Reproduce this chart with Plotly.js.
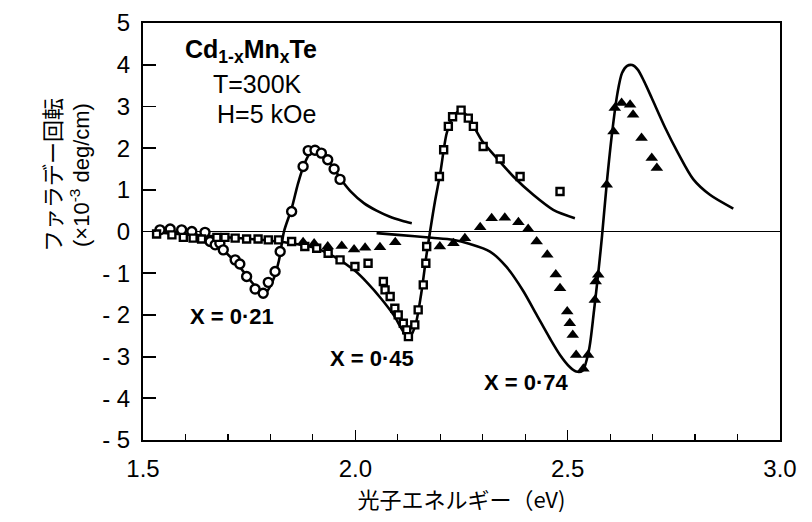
<!DOCTYPE html>
<html>
<head>
<meta charset="utf-8">
<script src="https://cdn.plot.ly/plotly-3.0.1.min.js"></script>
<style>html,body{margin:0;padding:0;background:#fff;}#chart{width:812px;height:522px;}</style>
</head>
<body>
<div id="chart"></div>
<script>
// x = 0.21 measured points (open circles)
const x021 = [1.540,1.564,1.591,1.615,1.646,1.658,1.670,1.681,1.689,1.717,1.728,1.744,1.764,1.783,1.795,1.811,1.823,1.850,1.877,1.889,1.905,1.920,1.935,1.950,1.964];
const y021 = [0.04,0.06,0.04,0.00,-0.02,-0.24,-0.32,-0.28,-0.44,-0.68,-0.78,-1.08,-1.38,-1.48,-1.22,-0.96,-0.48,0.48,1.56,1.94,1.95,1.88,1.72,1.50,1.25];
// x = 0.21 fitted curve
const xFit021 = [1.53,1.56,1.60,1.64,1.67,1.70,1.73,1.755,1.775,1.79,1.805,1.82,1.832,1.85,1.865,1.88,1.895,1.91,1.93,1.95,1.97,1.99,2.02,2.05,2.08,2.11,2.133];
const yFit021 = [0.0,-0.02,-0.06,-0.14,-0.30,-0.55,-0.88,-1.20,-1.42,-1.45,-1.20,-0.70,0.0,0.55,1.15,1.62,1.90,1.95,1.80,1.50,1.20,0.95,0.68,0.50,0.36,0.26,0.20];

// x = 0.45 measured points (open squares)
const x045 = [1.532,1.568,1.595,1.618,1.638,1.674,1.693,1.717,1.744,1.771,1.795,1.819,1.850,1.881,1.909,1.936,1.964,1.999,2.030,2.066,2.070,2.082,2.093,2.101,2.113,2.121,2.125,2.140,2.148,2.160,2.166,2.168,2.198,2.208,2.219,2.229,2.249,2.266,2.278,2.301,2.341,2.388,2.482];
const y045 = [-0.06,-0.08,-0.14,-0.16,-0.18,-0.14,-0.14,-0.16,-0.18,-0.18,-0.20,-0.20,-0.24,-0.36,-0.40,-0.52,-0.68,-0.84,-0.76,-1.20,-1.40,-1.56,-1.84,-2.00,-2.20,-2.36,-2.52,-2.24,-1.88,-1.28,-0.76,-0.36,1.32,1.96,2.52,2.75,2.91,2.72,2.52,2.04,1.74,1.32,0.96];
// x = 0.45 fitted curve
const xFit045 = [1.53,1.60,1.70,1.80,1.85,1.90,1.95,2.00,2.03,2.06,2.09,2.11,2.125,2.14,2.155,2.167,2.176,2.188,2.20,2.215,2.23,2.248,2.265,2.28,2.30,2.333,2.372,2.419,2.466,2.517];
const yFit045 = [-0.02,-0.07,-0.14,-0.22,-0.28,-0.38,-0.60,-0.95,-1.25,-1.60,-2.00,-2.35,-2.56,-2.30,-1.50,-0.60,0.0,0.75,1.40,2.35,2.75,2.90,2.75,2.50,2.15,1.76,1.32,0.88,0.52,0.32];

// x = 0.74 measured points (filled triangles)
const x074 = [1.877,1.903,1.935,1.968,1.997,2.023,2.058,2.094,2.199,2.231,2.258,2.294,2.321,2.352,2.384,2.407,2.427,2.452,2.472,2.482,2.499,2.505,2.512,2.520,2.537,2.548,2.564,2.566,2.572,2.592,2.608,2.611,2.627,2.647,2.654,2.674,2.698,2.710];
const y074 = [-0.26,-0.29,-0.36,-0.35,-0.43,-0.39,-0.38,-0.26,-0.36,-0.28,-0.16,0.10,0.32,0.33,0.22,0.06,-0.24,-0.56,-1.03,-1.36,-1.92,-2.20,-2.48,-2.96,-3.29,-2.96,-1.64,-1.20,-1.04,1.12,2.40,2.96,3.08,3.04,2.80,2.24,1.76,1.52];
// x = 0.74 fitted curve
const xFit074 = [2.05,2.10,2.18,2.23,2.27,2.317,2.356,2.395,2.427,2.458,2.482,2.505,2.52,2.535,2.55,2.562,2.573,2.581,2.592,2.605,2.617,2.628,2.64,2.652,2.665,2.68,2.698,2.729,2.76,2.796,2.835,2.89];
const yFit074 = [-0.04,-0.08,-0.15,-0.20,-0.30,-0.48,-0.85,-1.42,-2.00,-2.56,-2.96,-3.25,-3.36,-3.34,-2.85,-1.90,-0.90,-0.10,1.15,2.40,3.30,3.80,3.97,3.99,3.88,3.60,3.20,2.50,1.88,1.25,0.88,0.55];

// axis ticks
const yTickVals = [5,4,3,2,1,0,-1,-2,-3,-4,-5];
const yTickText = ['5','4','3','2','1','0','- 1','- 2','- 3','- 4','- 5'];

const lineStyle = {color:'#000', width:2.6, shape:'spline', smoothing:0.8};
const traces = [
  {x:xFit021, y:yFit021, mode:'lines', line:lineStyle, hoverinfo:'skip'},
  {x:xFit045, y:yFit045, mode:'lines', line:lineStyle, hoverinfo:'skip'},
  {x:xFit074, y:yFit074, mode:'lines', line:lineStyle, hoverinfo:'skip'},
  {x:x021, y:y021, mode:'markers', marker:{symbol:'circle', size:9, color:'#fff', line:{color:'#000', width:2.4}}},
  {x:x045, y:y045, mode:'markers', marker:{symbol:'square', size:7, color:'#fff', line:{color:'#000', width:2.4}}},
  {x:x074, y:y074, mode:'markers', marker:{symbol:'triangle-up', size:11, color:'#000', line:{color:'#000', width:0}}}
];

const sans = 'Liberation Sans, Arial, Noto Sans CJK JP, sans-serif';
const layout = {
  width:812, height:522,
  margin:{l:143, r:32, t:23, b:82},
  paper_bgcolor:'#fff', plot_bgcolor:'#fff',
  showlegend:false,
  font:{family:sans, color:'#000'},
  xaxis:{
    range:[1.5,3.0], tick0:1.5, dtick:0.5, tickformat:'.1f',
    ticks:'inside', ticklen:10, tickwidth:1.5, tickcolor:'#000',
    minor:{dtick:0.1, ticks:'inside', ticklen:6, tickwidth:1.2, tickcolor:'#000', showgrid:false},
    showline:true, mirror:true, linecolor:'#000', linewidth:2,
    showgrid:false, zeroline:false,
    tickfont:{size:24, family:sans, color:'#000'},
    ticklabelstandoff:6,
    title:{text:'光子エネルギー（eV)', font:{size:22, family:'Noto Sans CJK JP, sans-serif', color:'#000'}, standoff:12}
  },
  yaxis:{
    range:[-5,5], tickvals:yTickVals, ticktext:yTickText,
    ticks:'inside', ticklen:13, tickwidth:1.8, tickcolor:'#000',
    showline:true, mirror:true, linecolor:'#000', linewidth:2,
    showgrid:false, zeroline:true, zerolinecolor:'#000', zerolinewidth:1.6,
    tickfont:{size:24, family:sans, color:'#000'},
    ticklabelstandoff:6
  },
  annotations:[
    {xref:'paper', yref:'paper', x:-0.118, y:0.635, xanchor:'center', yanchor:'middle', textangle:-90, showarrow:false,
     text:'ファラデー回転<br>(×10<sup>-3</sup> deg/cm)', font:{size:22, family:'Liberation Sans, Noto Sans CJK JP, sans-serif', color:'#000'}},
    {xref:'x', yref:'y', x:1.754, y:4.33, showarrow:false, text:'<b>Cd<sub>1-x</sub>Mn<sub>x</sub>Te</b>', font:{size:25, family:sans, color:'#000'}},
    {xref:'x', yref:'y', x:1.77, y:3.53, showarrow:false, text:'T=300K', font:{size:25, family:sans, color:'#000'}},
    {xref:'x', yref:'y', x:1.79, y:2.82, showarrow:false, text:'H=5 kOe', font:{size:25, family:sans, color:'#000'}},
    {xref:'x', yref:'y', x:1.71, y:-2.04, showarrow:false, text:'<b>X = 0·21</b>', font:{size:22, family:sans, color:'#000'}},
    {xref:'x', yref:'y', x:2.039, y:-3.05, showarrow:false, text:'<b>X = 0·45</b>', font:{size:22, family:sans, color:'#000'}},
    {xref:'x', yref:'y', x:2.404, y:-3.63, showarrow:false, text:'<b>X = 0·74</b>', font:{size:22, family:sans, color:'#000'}}
  ]
};
Plotly.newPlot('chart', traces, layout, {staticPlot:true, displayModeBar:false});
</script>
</body>
</html>
